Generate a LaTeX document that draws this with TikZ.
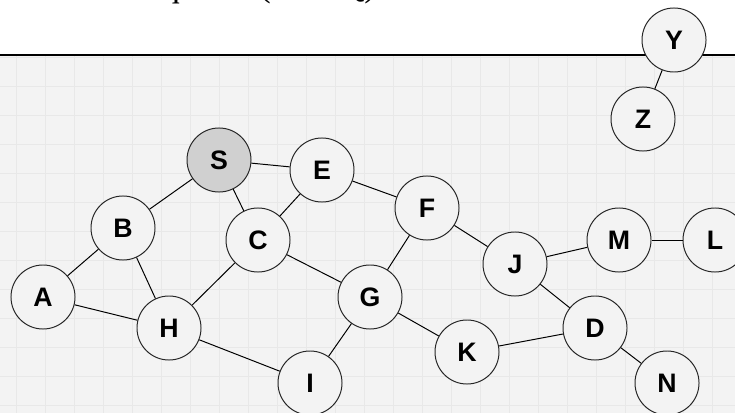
\documentclass[tikz,border=0pt]{standalone}
\usepackage{fontspec}
\setmainfont{Liberation Serif}
\setsansfont{Liberation Sans}
\usetikzlibrary{automata, backgrounds, positioning}

\definecolor{canvas}{HTML}{F3F3F3}
\definecolor{gridgray}{HTML}{E8E8E8}
\definecolor{source}{HTML}{D0D0D0}

\begin{document}
\begin{tikzpicture}[
            x=0.025cm, y=-0.025cm,
            auto,
            line width=0.7pt
        ]

        \useasboundingbox (0,0) rectangle (735,413);

        % page and grid
        \fill[white] (0,0) rectangle (735,55);
        \fill[canvas] (0,55) rectangle (735,413);
        \foreach \x in {16,45,...,735}
            \draw[gridgray, line width=0.5pt] (\x,55) -- (\x,413);
        \foreach \y in {57,86,...,413}
            \draw[gridgray, line width=0.5pt] (0,\y) -- (735,\y);

        % cut-off title
        \begin{scope}
            \clip (0,0) rectangle (735,55);
            \node[anchor=base west, inner sep=0, font=\fontsize{25}{30}\selectfont] (title) at (30,-3) {Route Requests (RREQ)};
        \end{scope}
        \draw[line width=1.1pt] (0,55) -- (735,55);

        \tikzstyle{every state}=[
            shape=circle,
            draw=black!85,
            fill=canvas,
            minimum size=1.6cm,
            inner sep=0pt,
            font=\sffamily\bfseries\fontsize{19}{22}\selectfont
        ]

        \node[state] (Y) at (674,40) {Y};
        \node[state] (Z) at (643,119) {Z};
        \node[state, fill=source] (S) at (219,160) {S};
        \node[state] (E) at (322,170) {E};
        \node[state] (B) at (123,228) {B};
        \node[state] (C) at (258,240) {C};
        \node[state] (F) at (427,208) {F};
        \node[state] (J) at (515,264) {J};
        \node[state] (M) at (619,240) {M};
        \node[state] (L) at (715,240) {L};
        \node[state] (A) at (43,297) {A};
        \node[state] (H) at (169,328) {H};
        \node[state] (G) at (370,297) {G};
        \node[state] (K) at (467,352) {K};
        \node[state] (D) at (595,328) {D};
        \node[state] (N) at (667,383) {N};
        \node[state] (I) at (310,383) {I};

        \path[-] (Y) edge (Z);
        \path[-] (S) edge (B);
        \path[-] (S) edge (E);
        \path[-] (S) edge (C);
        \path[-] (E) edge (C);
        \path[-] (E) edge (F);
        \path[-] (B) edge (A);
        \path[-] (B) edge (H);
        \path[-] (A) edge (H);
        \path[-] (C) edge (H);
        \path[-] (C) edge (G);
        \path[-] (F) edge (G);
        \path[-] (F) edge (J);
        \path[-] (H) edge (I);
        \path[-] (G) edge (I);
        \path[-] (G) edge (K);
        \path[-] (K) edge (D);
        \path[-] (J) edge (M);
        \path[-] (M) edge (L);
        \path[-] (J) edge (D);
        \path[-] (D) edge (N);

    \end{tikzpicture}
\end{document}
